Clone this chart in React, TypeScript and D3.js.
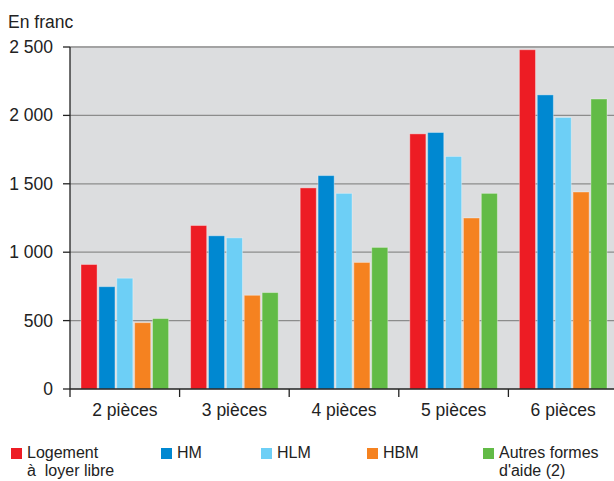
import React from 'react';
import * as d3 from 'd3';

// Loyer moyen par taille de logement, en francs
const categories = ['2 pièces', '3 pièces', '4 pièces', '5 pièces', '6 pièces'];
const seriesNames = ['Logement libre', 'HM', 'HLM', 'HBM', 'Autres'];
const libre = [910, 1195, 1470, 1865, 2480];
const hm = [748, 1120, 1560, 1875, 2150];
const hlm = [810, 1105, 1430, 1700, 1985];
const hbm = [485, 685, 925, 1250, 1440];
const autres = [515, 705, 1035, 1430, 2120];
const yTicks = [0, 500, 1000, 1500, 2000, 2500];
const colors = ['#ed1c24', '#0088d1', '#6dcff6', '#f58220', '#62bb46'];

const legend = [
  { lines: ['Logement', 'à  loyer libre'], x: 11 },
  { lines: ['HM'], x: 161 },
  { lines: ['HLM'], x: 261 },
  { lines: ['HBM'], x: 367 },
  { lines: ['Autres formes', "d'aide (2)"], x: 483 },
];

const fmt = (v: number) => d3.format(',')(v).replace(/,/g, ' ');

export default function App() {
  const W = 614, H = 481;
  const left = 70, right = 618, top = 47, bottom = 389;
  const values = [libre, hm, hlm, hbm, autres];

  const x = d3.scaleBand().domain(categories).range([left, right]).paddingInner(0).paddingOuter(0);
  const xs = d3.scaleBand().domain(seriesNames).range([11, x.bandwidth() - 11]).paddingInner(0.1);
  const y = d3.scaleLinear().domain([0, 2500]).range([bottom, top]);

  const font = '"Liberation Sans", Arial, sans-serif';
  const fs = 17.5;

  return (
    <svg width={W} height={H} style={{ position: 'absolute', left: 0, top: 0, fontFamily: font }}>
      <rect x={left} y={top} width={right - left} height={bottom - top} fill="#dcdddf" />
      {yTicks.slice(1).map(t => (
        <line key={t} x1={left} x2={right} y1={y(t)} y2={y(t)}
          stroke={t === 2500 ? '#a3a3a3' : '#8c8c8c'} strokeWidth={t === 2500 ? 2 : 1.2} />
      ))}
      {categories.map((c, i) => (
        <g key={c} transform={`translate(${x(c)},0)`}>
          {seriesNames.map((s, j) => (
            <rect key={s} x={xs(s)} width={xs.bandwidth()} y={y(values[j][i])}
              height={y(0) - y(values[j][i])} fill={colors[j]}
              stroke="#ffffff" strokeOpacity={0.35} strokeWidth={1} />
          ))}
        </g>
      ))}
      <line x1={left} x2={right} y1={bottom} y2={bottom} stroke="#222" strokeWidth={1.3} />
      <line x1={left} x2={left} y1={top} y2={bottom + 8} stroke="#222" strokeWidth={1.3} />
      {yTicks.map(t => (
        <g key={t}>
          <line x1={left - 7} x2={left} y1={y(t)} y2={y(t)} stroke="#222" strokeWidth={1.3} />
          <text x={53} y={y(t) + 6} textAnchor="end" fontSize={fs} fill="#222">{fmt(t)}</text>
        </g>
      ))}
      {categories.map(c => (
        <g key={c}>
          <line x1={x(c)! + x.bandwidth()} x2={x(c)! + x.bandwidth()} y1={bottom} y2={bottom + 8}
            stroke="#222" strokeWidth={1.3} />
          <text x={x(c)! + x.bandwidth() / 2} y={bottom + 27} textAnchor="middle" fontSize={fs} fill="#222">{c}</text>
        </g>
      ))}
      <text x={8} y={28} fontSize={fs} fill="#222">En franc</text>
      {legend.map((l, i) => (
        <g key={i}>
          <rect x={l.x} y={448} width={11} height={11} fill={colors[i]} />
          {l.lines.map((ln, k) => (
            <text key={k} x={l.x + 16} y={458 + k * 18} fontSize={16} fill="#222" xmlSpace="preserve">{ln}</text>
          ))}
        </g>
      ))}
    </svg>
  );
}
